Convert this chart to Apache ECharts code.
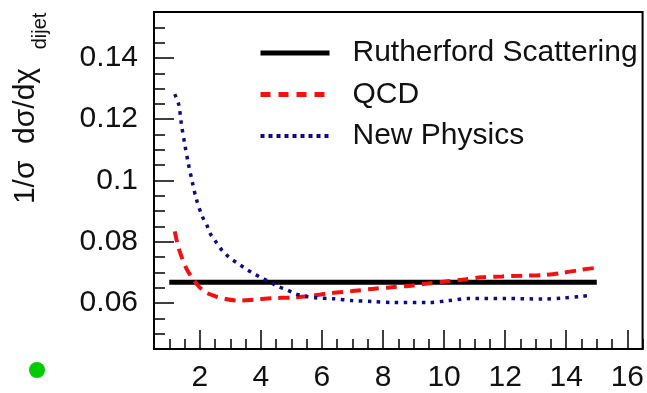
<!DOCTYPE html>
<html>
<head>
<meta charset="utf-8">
<script src="https://cdn.jsdelivr.net/npm/echarts@6/dist/echarts.min.js"></script>
<style>
  html, body { margin: 0; padding: 0; background: #fff; }
  #chart { width: 647px; height: 393px; }
</style>
</head>
<body>
<div id="chart"></div>
<script>
// axis ticks
const xMajorTicks = [2, 4, 6, 8, 10, 12, 14, 16];
const yMajorTicks = [0.06, 0.08, 0.1, 0.12, 0.14];

// series names
const seriesNames = ['Rutherford Scattering', 'QCD', 'New Physics'];

// curves, [chi, value]
const rutherford = [[1, 0.0668], [15, 0.0668]];
const qcd = [
  [1.18, 0.0834], [1.29, 0.0785], [1.40, 0.0752], [1.58, 0.0709], [1.75, 0.0682],
  [1.97, 0.0654], [2.19, 0.0635], [2.51, 0.0622], [2.84, 0.0613], [3.28, 0.0608],
  [3.77, 0.0611], [4.37, 0.0616], [5.02, 0.0618], [5.68, 0.0624], [6.33, 0.0633],
  [6.99, 0.0639], [7.64, 0.0646], [8.21, 0.0651], [8.84, 0.0656], [9.39, 0.0663],
  [10.04, 0.0670], [10.59, 0.0676], [11.24, 0.0684], [11.90, 0.0687], [12.55, 0.0689],
  [13.2, 0.0691], [13.86, 0.0698], [14.51, 0.0709], [14.9, 0.0714]
];
const newPhysics = [
  [1.18, 0.1282], [1.31, 0.1248], [1.40, 0.1182], [1.51, 0.1117], [1.62, 0.1057],
  [1.75, 0.0997], [1.88, 0.0941], [2.08, 0.0883], [2.24, 0.0852], [2.35, 0.0825],
  [2.53, 0.0799], [2.73, 0.0772], [2.95, 0.0750], [3.22, 0.0731], [3.47, 0.0714],
  [3.73, 0.0698], [4.01, 0.0683], [4.28, 0.0669], [4.56, 0.0654], [4.86, 0.0643],
  [5.13, 0.0630], [5.46, 0.0622], [5.79, 0.0617], [6.39, 0.0614], [6.99, 0.0608],
  [7.64, 0.0605], [8.29, 0.0602], [9.5, 0.0602], [10.15, 0.0608], [10.81, 0.0615],
  [12.0, 0.0615], [13.26, 0.0613], [13.86, 0.0616], [14.51, 0.0622], [14.84, 0.0626]
];

const font = '"Liberation Sans", Arial, sans-serif';
const chart = echarts.init(document.getElementById('chart'));

const xBase = {
  type: 'value', min: 0.5, max: 16.5, position: 'bottom',
  splitLine: { show: false }
};
const yBase = {
  type: 'value', min: 0.045, max: 0.155, position: 'left',
  splitLine: { show: false }
};

chart.setOption({
  animation: false,
  textStyle: { fontFamily: font },
  grid: {
    left: 154, right: 4, top: 12, bottom: 43,
    show: true, borderColor: '#000', borderWidth: 2
  },
  legend: {
    data: [
      { name: seriesNames[0], lineStyle: { color: '#000', width: 5 } },
      { name: seriesNames[1], lineStyle: { color: '#f51010', width: 5, type: [10, 8] } },
      { name: seriesNames[2], lineStyle: { color: '#0c0c8a', width: 4, type: [4, 4] } }
    ],
    orient: 'vertical',
    left: 258, top: 38,
    itemWidth: 69, itemHeight: 14, itemGap: 11.5,
    padding: 0,
    itemStyle: { opacity: 0 },
    textStyle: { fontSize: 30, lineHeight: 30, color: '#111', padding: [0, 0, 0, 18] }
  },
  xAxis: [
    Object.assign({}, xBase, {
      interval: 0.5,
      axisLine: { lineStyle: { color: '#000', width: 2 } },
      axisTick: { inside: true, length: 10, lineStyle: { color: '#000', width: 1.5 } },
      axisLabel: { show: false }
    }),
    Object.assign({}, xBase, {
      axisLine: { show: false },
      axisTick: { inside: true, length: 19, customValues: xMajorTicks, lineStyle: { color: '#000', width: 1.5 } },
      axisLabel: { customValues: xMajorTicks, fontSize: 30, color: '#111', margin: 14 }
    })
  ],
  yAxis: [
    Object.assign({}, yBase, {
      interval: 0.005,
      axisLine: { lineStyle: { color: '#000', width: 2 } },
      axisTick: { inside: true, length: 11, lineStyle: { color: '#000', width: 1.5 } },
      axisLabel: { show: false }
    }),
    Object.assign({}, yBase, {
      axisLine: { show: false },
      axisTick: { inside: true, length: 20, customValues: yMajorTicks, lineStyle: { color: '#000', width: 1.5 } },
      axisLabel: {
        customValues: yMajorTicks, fontSize: 30, color: '#111', margin: 16,
        formatter: v => String(+v.toFixed(3))
      }
    })
  ],
  graphic: [
    {
      type: 'text', x: 26, y: 136, rotation: Math.PI / 2,
      style: { text: '1/σ  dσ/dχ', font: '30px ' + font, fill: '#111', align: 'center', verticalAlign: 'middle' }
    },
    {
      type: 'text', x: 40, y: 31, rotation: Math.PI / 2,
      style: { text: 'dijet', font: '20px ' + font, fill: '#111', align: 'center', verticalAlign: 'middle' }
    },
    {
      type: 'circle', shape: { cx: 37, cy: 370, r: 8 },
      style: { fill: '#00cc00' }
    }
  ],
  series: [
    {
      name: seriesNames[0], type: 'line', data: rutherford, symbol: 'none',
      lineStyle: { color: '#000', width: 5 }, itemStyle: { color: '#000' }
    },
    {
      name: seriesNames[1], type: 'line', data: qcd, symbol: 'none', smooth: 0.3,
      lineStyle: { color: '#f51010', width: 4, type: [11, 7] }, itemStyle: { color: '#f51010' }
    },
    {
      name: seriesNames[2], type: 'line', data: newPhysics, symbol: 'none', smooth: 0.3,
      lineStyle: { color: '#0c0c8a', width: 3.5, type: [3.5, 5.5] }, itemStyle: { color: '#0c0c8a' }
    }
  ]
});
</script>
</body>
</html>
